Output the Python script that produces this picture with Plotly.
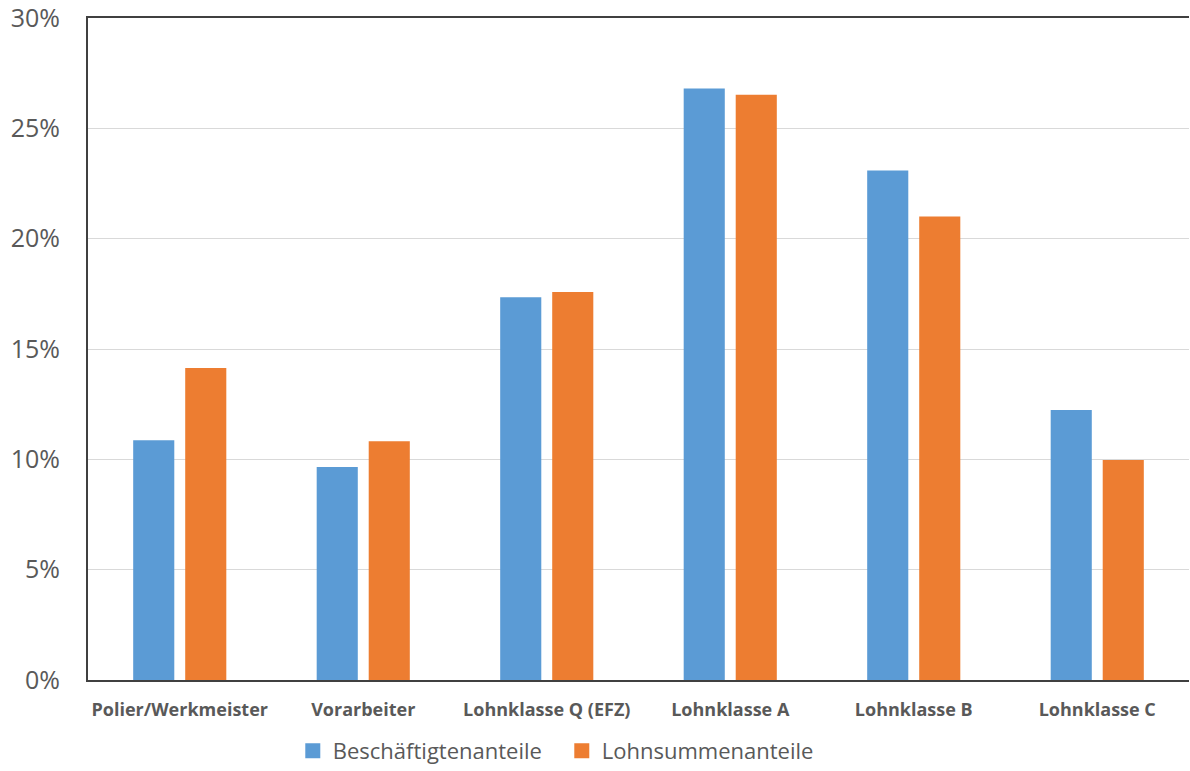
import plotly.graph_objects as go

# Anteile je Lohnklasse
categories = ["Polier/Werkmeister", "Vorarbeiter", "Lohnklasse Q (EFZ)",
              "Lohnklasse A", "Lohnklasse B", "Lohnklasse C"]
beschaeftigte = [0.1087, 0.0965, 0.1735, 0.2681, 0.2309, 0.1223]
lohnsumme = [0.1414, 0.1082, 0.1758, 0.2652, 0.2101, 0.0997]
series_names = ["Beschäftigtenanteile", "Lohnsummenanteile"]
colors = ["#5B9BD5", "#ED7D31"]
y_ticks = [0.0, 0.05, 0.10, 0.15, 0.20, 0.25, 0.30]
y_ticktext = ["0%", "5%", "10%", "15%", "20%", "25%", "30%"]

FONT = "Open Sans"
GREY = "#595959"

fig = go.Figure()
for name, vals, col in zip(series_names, [beschaeftigte, lohnsumme], colors):
    fig.add_trace(go.Bar(
        x=categories, y=vals, name=name,
        marker=dict(color=col, line=dict(width=0)),
        showlegend=False,
    ))
    # legend entry with a larger square swatch
    fig.add_trace(go.Scatter(
        x=[None], y=[None], mode="markers", name=name,
        marker=dict(symbol="square", size=15, color=col),
    ))

fig.update_layout(
    width=1190, height=771,
    margin=dict(l=88, r=1, t=18, b=91, autoexpand=False),
    paper_bgcolor="white", plot_bgcolor="white",
    barmode="group", bargap=0.433, bargroupgap=0.21,
    font=dict(family=FONT, color=GREY),
    legend=dict(
        orientation="h", x=0.186, xanchor="left", y=-0.107, yanchor="middle",
        font=dict(family=FONT, size=22, color=GREY),
        entrywidth=224, entrywidthmode="pixels",
        traceorder="normal", bgcolor="rgba(0,0,0,0)",
    ),
    xaxis=dict(
        showline=True, linecolor="#404040", linewidth=2, mirror=True,
        ticks="outside", ticklen=12, tickcolor="rgba(0,0,0,0)",
        tickfont=dict(family=FONT, size=18, color=GREY, weight="bold"),
        showgrid=False,
    ),
    yaxis=dict(
        range=[0, 0.30], tickvals=y_ticks, ticktext=y_ticktext,
        showline=True, linecolor="#404040", linewidth=2,
        gridcolor="#D9D9D9", gridwidth=1,
        ticks="outside", ticklen=21, tickcolor="rgba(0,0,0,0)",
        tickfont=dict(family=FONT, size=25, color=GREY),
        ticklabeloverflow="allow",
        zeroline=False,
    ),
)

fig.write_html("out.html")
